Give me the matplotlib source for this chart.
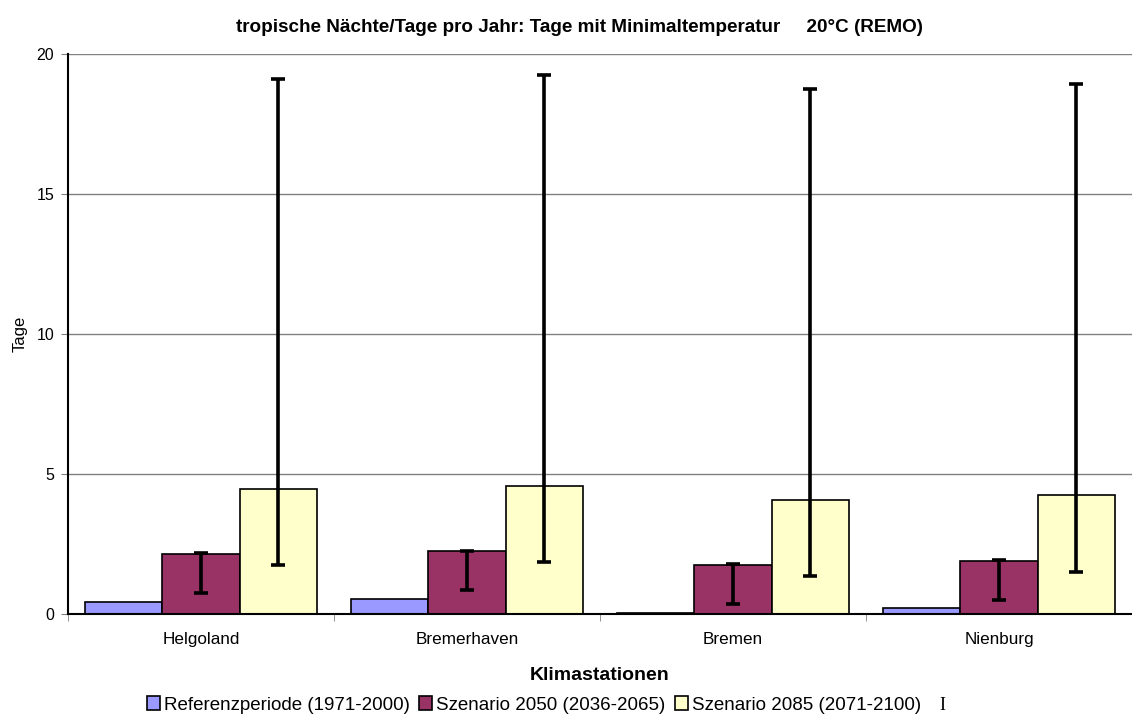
import matplotlib
matplotlib.use("Agg")
import matplotlib.pyplot as plt
import numpy as np

plt.rcParams["font.family"] = ["Liberation Sans", "DejaVu Sans"]

stations = ["Helgoland", "Bremerhaven", "Bremen", "Nienburg"]
series_names = ["Referenzperiode (1971-2000)", "Szenario 2050 (2036-2065)", "Szenario 2085 (2071-2100)"]

ref_vals = [0.42, 0.54, 0.03, 0.20]
s2050_vals = [2.15, 2.25, 1.75, 1.90]
s2085_vals = [4.46, 4.57, 4.07, 4.25]

# error ranges (low, high) as drawn
s2050_low = [0.75, 0.85, 0.36, 0.50]
s2050_high = [2.17, 2.26, 1.77, 1.92]
s2085_low = [1.75, 1.85, 1.36, 1.50]
s2085_high = [19.10, 19.25, 18.74, 18.92]

colors = ["#9999ff", "#993366", "#ffffcc"]

fig = plt.figure(figsize=(11.32, 7.16), dpi=100)
ax = fig.add_axes([68 / 1132, 1 - 614 / 716, 1 - 68 / 1132, (614 - 54) / 716])

x = np.arange(len(stations))
w = 0.29
ekw = dict(ecolor="black", elinewidth=2.6, capsize=5, capthick=2.6)

ax.bar(x - w, ref_vals, w, color=colors[0], edgecolor="black", linewidth=1.2,
       label=series_names[0], zorder=2)
v = np.array(s2050_vals)
ax.bar(x, s2050_vals, w, color=colors[1], edgecolor="black", linewidth=1.2,
       label=series_names[1], zorder=2,
       yerr=[v - np.array(s2050_low), np.array(s2050_high) - v], error_kw=ekw)
v = np.array(s2085_vals)
ax.bar(x + w, s2085_vals, w, color=colors[2], edgecolor="black", linewidth=1.2,
       label=series_names[2], zorder=2,
       yerr=[v - np.array(s2085_low), np.array(s2085_high) - v], error_kw=ekw)

ax.set_xlim(-0.5, len(stations) - 0.5)
ax.set_ylim(0, 20)
ax.set_yticks([0, 5, 10, 15, 20])
ax.set_xticks(x)
ax.set_xticklabels(stations)
ax.set_xticks(np.arange(len(stations) + 1) - 0.5, minor=True)
ax.tick_params(axis="x", which="major", length=0, pad=13, labelsize=12.3)
ax.tick_params(axis="x", which="minor", length=5, color="#808080")
ax.tick_params(axis="y", length=5, color="#808080", labelsize=11.5, pad=5)

ax.grid(axis="y", color="#808080", linewidth=1)
ax.set_axisbelow(True)
for s in ["top", "right"]:
    ax.spines[s].set_visible(False)
ax.spines["left"].set_linewidth(1.5)
ax.spines["bottom"].set_linewidth(1.5)

ax.set_ylabel("Tage", fontsize=12, labelpad=6)
ax.set_xlabel("Klimastationen", fontsize=14, fontweight="bold", labelpad=14)

fig.text(580 / 1132, 1 - 27 / 716,
         "tropische Nächte/Tage pro Jahr: Tage mit Minimaltemperatur     20°C (REMO)",
         ha="center", va="center", fontsize=13.6, fontweight="bold")

fig.legend(loc="center", bbox_to_anchor=(534 / 1132, 1 - 705 / 716), ncol=3,
           frameon=False, fontsize=13.5, handlelength=0.7, handleheight=0.7,
           handletextpad=0.2, columnspacing=0.5)
fig.text(942 / 1132, 1 - 705 / 716, "I", family="Liberation Serif", fontsize=13,
         ha="center", va="center")

fig.savefig("out.png", dpi=100)
